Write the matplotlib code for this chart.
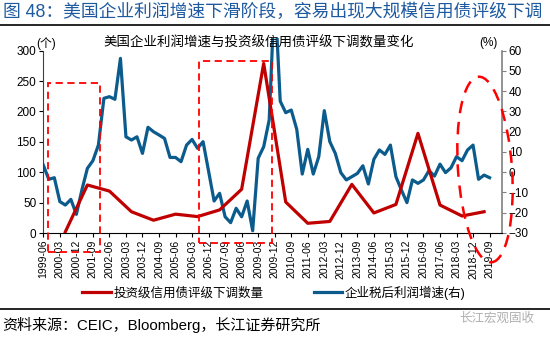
import matplotlib
matplotlib.use("Agg")
import matplotlib.pyplot as plt
from matplotlib.patches import Rectangle, Ellipse
from matplotlib.lines import Line2D
from matplotlib.transforms import Bbox, TransformedBbox, IdentityTransform

plt.rcParams['font.family'] = ['Liberation Sans', 'Noto Sans CJK SC', 'DejaVu Sans']

# ---------------- data ----------------
# quarterly dates 1999-06 .. 2019-09
quarters = []
y, m = 1999, 6
while (y, m) <= (2019, 9):
    quarters.append(f"{y}-{m:02d}")
    m += 3
    if m > 12:
        m -= 12
        y += 1

# corporate after-tax profit growth (%, right axis), quarterly
profit_growth = [3.5, -3.5, -2.7, -14.5, -16.2, -13.4, -20.8, -8.8, 1.9, 5.7,
                 13.4, 36.5, 37.3, 36.0, 56.2, 17.5, 15.9, 17.5, 9.3, 22.2,
                 20.0, 18.4, 16.7, 7.3, 7.3, 5.2, 13.4, 16.2, 11.8, 15.1,
                 0.5, -14.2, -10.4, -22.0, -24.9, -17.8, -22.0, -14.2, -28.9, 6.9,
                 12.6, 25.8, 90.0, 35.1, 29.4, 30.7, 21.2, -0.9, 11.3, -0.9,
                 7.7, 30.4, 15.1, 9.3, -0.2, -3.8, -2.2, -0.6, 3.2, -5.8,
                 6.4, 11.0, 8.8, 13.4, -2.2, -8.8, -15.0, -3.8, -5.5, -3.8,
                 0.8, -1.9, 4.0, -0.2, 2.2, 7.7, 5.7, 11.0, 13.4, -3.5,
                 -1.4, -2.7]

# investment-grade downgrades (count, left axis), annual at June
downgrade_dates = [f"{yr}-06" for yr in range(2000, 2020)]
downgrades = [2, 79, 69, 35, 21, 31, 27, 38, 72, 279,
              51, 16, 19, 80, 33, 47, 164, 46, 28, 35]

tick_labels = quarters[::3]

title_main = "图 48：美国企业利润增速下滑阶段，容易出现大规模信用债评级下调"
chart_title = "美国企业利润增速与投资级信用债评级下调数量变化"
label_red = "投资级信用债评级下调数量"
label_blue = "企业税后利润增速(右)"
source = "资料来源：CEIC，Bloomberg，长江证券研究所"
watermark = "长江宏观固收"

# ---------------- figure ----------------
W, H = 550, 338
fig = plt.figure(figsize=(W / 100, H / 100), dpi=100)
ax = fig.add_axes([43.3 / W, 1 - 233 / H, (501.7 - 43.3) / W, (233 - 50.7) / H])
ax2 = ax.twinx()

xq = list(range(len(quarters)))
xd = [quarters.index(d) for d in downgrade_dates]

red_line, = ax.plot(xd, downgrades, color='#C00000', lw=2.3, solid_joinstyle='round',
                    label=label_red, zorder=3)
blue_line, = ax2.plot(xq, profit_growth, color='#0B5B8D', lw=2.3, solid_joinstyle='round',
                      label=label_blue, zorder=3)
# blue spike extends slightly above plot area as in reference
blue_line.set_clip_box(TransformedBbox(Bbox([[0, -0.1], [1, 1.07]]), ax2.transAxes))

ax.set_xlim(0, 83.2)
ax.set_ylim(0, 300)
ax2.set_ylim(-30, 60)
ax.set_yticks(range(0, 301, 50))
ax2.set_yticks(range(-30, 61, 10))
ax.set_xticks(xq[::3])
ax.set_xticklabels(tick_labels, rotation=90, fontsize=7.5)
ax.tick_params(axis='x', length=3, width=0.8, pad=2, colors='#000000')
ax.tick_params(axis='y', labelsize=8.5, length=3, width=0.8, pad=2)
ax2.tick_params(axis='y', labelsize=8.5, length=3, width=0.8, pad=2, color='#808080')

for a in (ax, ax2):
    a.spines['top'].set_visible(False)
ax.spines['right'].set_visible(False)
ax2.spines['left'].set_visible(False)
ax2.spines['bottom'].set_visible(False)
ax.spines['left'].set_color('#404040')
ax.spines['bottom'].set_color('#000000')
ax2.spines['right'].set_color('#808080')
ax2.spines['right'].set_linewidth(1.2)

ax.set_zorder(ax2.get_zorder() + 1)
ax.patch.set_visible(False)

# dashed rectangles (data coords on left axis)
rect_kw = dict(fill=False, ec='#FF0000', lw=1.3, ls=(0, (4, 2.5)), clip_on=False, zorder=5)
ax.add_patch(Rectangle((0.9, -31), 9.4, 278, **rect_kw))
ax.add_patch(Rectangle((28.2, -16), 13.4, 299, **rect_kw))

# dashed ellipse (pixel coords)
ell = Ellipse((485, H - 169.5), 54, 186, angle=4, fill=False, ec='#FF0000', lw=1.8,
              ls=(0, (5, 3.5)), transform=IdentityTransform(), clip_on=False, zorder=6)
fig.add_artist(ell)

# texts
fig.text(3 / W, 1 - 12 / H, title_main, fontsize=12.8, color='#1E5AA0', va='center', ha='left')
fig.add_artist(Line2D([0, 1], [1 - 25 / H, 1 - 25 / H], color='#000000', lw=1.2))
fig.text(259 / W, 1 - 43 / H, chart_title, fontsize=9.7, ha='center', va='center')
fig.text(46 / W, 1 - 44 / H, "(个)", fontsize=8.5, ha='center', va='center')
fig.text(488 / W, 1 - 43 / H, "(%)", fontsize=8.5, ha='center', va='center')

fig.legend(handles=[red_line, blue_line], loc='center', bbox_to_anchor=(274 / W, 1 - 292.5 / H),
           ncol=2, frameon=False, fontsize=9, handlelength=2.3, handletextpad=0.2,
           columnspacing=4.0, borderpad=0, borderaxespad=0)

fig.add_artist(Line2D([0, 1], [1 - 309 / H, 1 - 309 / H], color='#000000', lw=1.2))
fig.text(2 / W, 1 - 325 / H, source, fontsize=10.8, ha='left', va='center')
fig.text(497 / W, 1 - 319 / H, watermark, fontsize=9, ha='center', va='center', color='#B0B0B0')

fig.savefig("out.png", dpi=100)
